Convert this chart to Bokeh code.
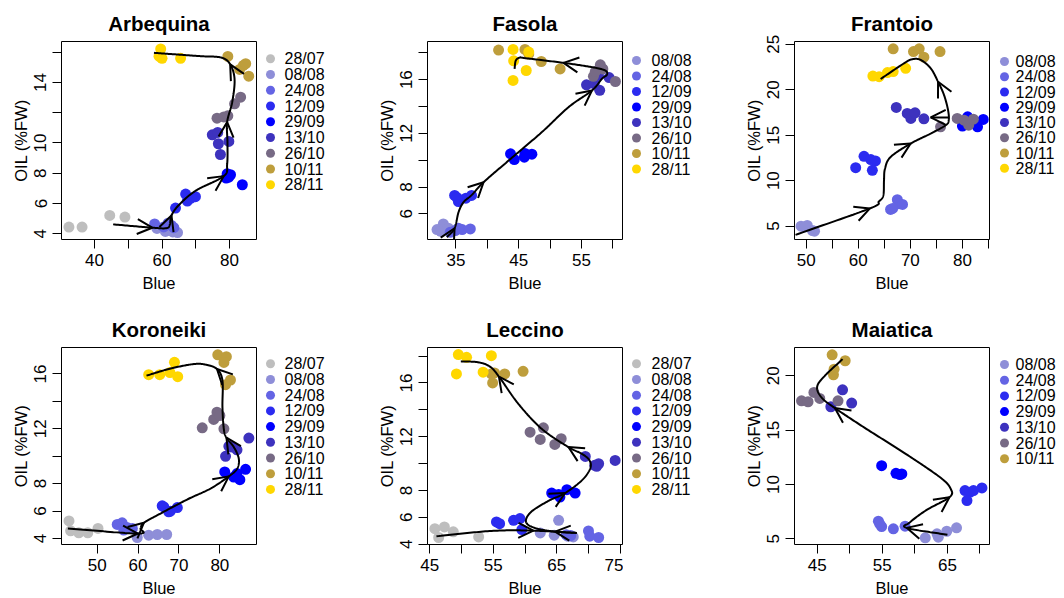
import numpy as np
from bokeh.plotting import figure
from bokeh.models import Range1d, FixedTicker, Arrow, OpenHead, ColumnDataSource
from bokeh.layouts import row, column
from bokeh.core.properties import value
from bokeh.embed import file_html
from bokeh.resources import INLINE

FONT = "Liberation Sans"

DATES = ["28/07", "08/08", "24/08", "12/09", "29/09", "13/10", "26/10", "10/11", "28/11"]
DATE_COLORS = ["#BEBEBE", "#8E8ED8", "#6464E4", "#2B2BF0", "#0000FF",
               "#3D32BE", "#776A85", "#BE9E3C", "#FFD700"]

# ---------------- Arbequina ----------------
arbequina_dates = ["28/07", "08/08", "24/08", "12/09", "29/09", "13/10", "26/10", "10/11", "28/11"]
arbequina_blue = [
    [32.4, 36.3, 44.5, 49.0],
    [58.5, 61.0, 62.4, 63.2, 64.6],
    [57.8, 60.5, 61.8, 62.8, 63.5],
    [64.0, 67.0, 67.5, 69.9, 68.6],
    [79.3, 79.8, 80.3, 83.8, 79.0],
    [74.9, 76.5, 76.7, 77.3, 79.8],
    [76.3, 78.3, 79.5, 81.5, 83.3],
    [79.5, 83.0, 84.1, 84.8, 85.7],
    [59.6, 59.6, 60.0, 65.5, 59.1],
]
arbequina_oil = [
    [4.44, 4.44, 5.21, 5.10],
    [4.35, 4.15, 4.25, 4.12, 4.08],
    [4.65, 4.45, 4.70, 4.55, 4.40],
    [5.70, 6.62, 6.16, 6.45, 6.35],
    [7.96, 7.74, 7.90, 7.24, 7.68],
    [10.54, 10.70, 9.95, 9.24, 10.10],
    [11.64, 11.72, 11.80, 12.59, 13.03],
    [15.72, 14.86, 15.13, 15.24, 14.42],
    [16.22, 15.67, 15.60, 15.60, 15.74],
]
arbequina_path_blue = [[45.5, 57.1, 61.3, 62.3, 62.8, 65.0, 70.0, 78.3, 79.3, 79.4, 79.3, 80.8, 81.5, 80.2, 77.5, 71.4, 64.5, 57.6]]
arbequina_path_oil = [[4.62, 4.40, 4.37, 4.60, 5.21, 5.90, 6.85, 7.81, 8.60, 10.0, 11.38, 12.70, 14.20, 15.20, 15.65, 15.74, 15.85, 15.96]]
arbequina_arrows = [[1, 4, 7, 10, 13]]

# ---------------- Fasola ----------------
fasola_dates = ["08/08", "24/08", "12/09", "29/09", "13/10", "26/10", "10/11", "28/11"]
fasola_blue = [
    [32.0, 33.0, 33.8, 32.6],
    [34.9, 36.0, 37.3, 34.1, 35.4],
    [34.8, 35.4, 36.6, 37.5, 35.2],
    [43.7, 44.3, 45.9, 47.1, 46.0],
    [55.8, 57.7, 57.9, 59.4, 57.0],
    [56.9, 58.0, 58.4, 60.4, 57.2],
    [41.8, 46.0, 48.6, 51.6, 46.6],
    [44.1, 44.2, 46.6, 46.2, 44.1],
]
fasola_oil = [
    [4.83, 5.25, 4.93, 4.70],
    [4.76, 4.83, 4.88, 4.63, 4.93],
    [7.37, 6.92, 7.17, 7.37, 7.20],
    [10.47, 10.05, 10.22, 10.45, 10.50],
    [15.61, 16.31, 15.20, 16.15, 15.70],
    [16.25, 17.10, 16.80, 15.86, 16.60],
    [18.20, 18.25, 17.35, 16.80, 17.90],
    [18.25, 17.40, 18.05, 16.68, 15.94],
]
fasola_path_blue = [[33.57, 34.79, 35.42, 36.22, 37.55, 39.41, 43.39, 48.69, 52.94, 56.66, 58.25, 59.04, 58.78, 56.66, 52.14, 46.04, 45.24, 44.55, 44.34]]
fasola_path_oil = [[4.26, 4.93, 6.12, 6.87, 7.42, 8.36, 9.97, 12.09, 13.95, 15.19, 16.06, 16.36, 16.68, 16.93, 17.25, 17.60, 17.65, 17.43, 16.80]]
fasola_arrows = [[1, 5, 9, 14]]

# ---------------- Frantoio ----------------
frantoio_dates = ["08/08", "24/08", "12/09", "29/09", "13/10", "26/10", "10/11", "28/11"]
frantoio_blue = [
    [49.0, 50.2, 51.2, 51.6, 49.7],
    [66.2, 67.5, 67.8, 68.5, 66.6],
    [59.5, 61.1, 62.4, 63.3, 62.7],
    [80.0, 81.0, 82.9, 84.0, 80.3],
    [67.3, 69.4, 70.1, 70.9, 72.6],
    [75.8, 79.0, 80.3, 81.2, 82.1],
    [66.7, 70.6, 71.7, 72.6, 75.7],
    [62.8, 64.0, 65.6, 66.7, 69.1],
]
frantoio_oil = [
    [5.00, 5.07, 4.52, 4.45, 4.90],
    [6.84, 7.90, 7.46, 7.39, 6.95],
    [11.43, 12.68, 12.32, 12.17, 11.14],
    [16.00, 17.02, 15.92, 16.73, 16.36],
    [18.05, 17.39, 16.84, 17.46, 16.80],
    [15.92, 16.84, 16.65, 16.10, 16.76],
    [24.49, 24.19, 24.49, 23.57, 24.19],
    [21.50, 21.43, 21.88, 21.99, 22.35],
]
frantoio_path_blue = [
    [47.95, 62.24, 63.97, 64.81, 64.94, 65.13, 66.22, 70.06, 73.91, 76.79, 77.37, 77.24, 76.47, 75.32, 73.91, 71.99, 70.38, 68.78, 64.29],
    [77.37, 73.91],
]
frantoio_path_oil = [
    [4.04, 6.95, 7.72, 8.38, 10.04, 11.32, 12.61, 14.08, 15.18, 16.10, 16.65, 17.76, 19.41, 20.88, 22.35, 23.27, 23.35, 22.90, 21.18],
    [16.95, 16.95],
]
frantoio_arrows = [[1, 7, 13], [1]]

# ---------------- Koroneiki ----------------
koroneiki_dates = ["28/07", "08/08", "24/08", "12/09", "29/09", "13/10", "26/10", "10/11", "28/11"]
koroneiki_blue = [
    [43.1, 43.5, 45.5, 47.7, 50.2],
    [59.8, 62.6, 64.7, 67.0],
    [54.9, 56.1, 57.3, 58.6, 56.5],
    [65.9, 66.3, 67.5, 67.9, 69.6],
    [81.2, 83.4, 84.9, 86.3, 84.2],
    [81.4, 82.2, 84.2, 87.1, 83.0],
    [75.7, 78.5, 79.3, 81.0, 80.0],
    [79.5, 81.6, 81.0, 82.6, 81.4],
    [62.6, 65.3, 67.8, 68.9, 69.7],
]
koroneiki_oil = [
    [5.28, 4.56, 4.41, 4.41, 4.73],
    [4.07, 4.24, 4.29, 4.29],
    [5.02, 5.14, 4.80, 4.73, 4.61],
    [6.38, 6.30, 5.94, 5.99, 6.25],
    [8.85, 8.48, 8.29, 9.04, 8.73],
    [9.99, 10.72, 10.47, 11.32, 10.67],
    [12.07, 12.68, 13.21, 12.00, 12.97],
    [17.40, 17.26, 16.84, 15.56, 15.22],
    [15.95, 15.95, 16.10, 16.85, 15.80],
]
koroneiki_path_blue = [[42.83, 59.94, 60.6, 61.41, 65.49, 72.0, 77.71, 82.19, 84.23, 84.64, 83.41, 81.62, 80.97, 80.64, 80.64, 79.3, 76.5, 73.6, 68.0, 62.06]]
koroneiki_path_oil = [[4.73, 4.36, 4.73, 5.14, 5.82, 6.84, 7.64, 8.53, 9.09, 9.82, 10.67, 11.35, 12.0, 13.58, 15.52, 16.36, 16.68, 16.72, 16.40, 15.88]]
koroneiki_arrows = [[1, 3, 7, 11, 15]]

# ---------------- Leccino ----------------
leccino_dates = ["28/07", "08/08", "24/08", "12/09", "29/09", "13/10", "26/10", "10/11", "28/11"]
leccino_blue = [
    [45.8, 47.3, 48.7, 46.4, 52.7],
    [62.4, 65.3, 64.6, 66.8, 67.6],
    [70.0, 70.2, 71.6, 67.2, 66.5],
    [55.5, 56.0, 58.2, 59.2, 59.5],
    [64.2, 65.3, 66.6, 67.9, 65.5],
    [69.5, 71.0, 71.6, 74.2, 71.3],
    [60.8, 62.4, 62.9, 64.7, 65.7],
    [54.7, 54.9, 56.8, 59.7, 55.2],
    [49.5, 50.8, 54.7, 49.2, 53.4],
]
leccino_oil = [
    [5.16, 5.29, 4.92, 4.50, 4.54],
    [4.84, 5.78, 4.67, 4.59, 4.54],
    [4.99, 4.60, 4.50, 4.65, 4.70],
    [5.66, 5.53, 5.78, 5.91, 5.09],
    [7.81, 7.71, 8.06, 7.81, 7.51],
    [10.53, 9.87, 9.99, 10.24, 9.80],
    [12.34, 11.80, 12.66, 11.43, 11.85],
    [16.67, 16.00, 16.67, 16.87, 16.75],
    [18.11, 17.91, 18.03, 16.67, 16.80],
]
leccino_path_blue = [
    [46.05, 54.74, 61.32, 68.16],
    [68.16, 64.74, 61.58, 60.16, 60.95, 63.68, 66.32, 68.95, 70.26, 70.16, 68.95, 66.84, 62.63, 58.95, 55.89, 54.47, 52.63, 49.89],
]
leccino_path_oil = [
    [4.59, 4.99, 5.01, 4.84],
    [4.84, 4.94, 5.21, 5.66, 6.40, 7.22, 7.81, 8.75, 9.62, 10.24, 10.73, 11.23, 12.59, 14.45, 16.48, 17.22, 17.54, 17.61],
]
leccino_arrows = [[2], [1, 6, 11, 14]]

# ---------------- Maiatica ----------------
maiatica_dates = ["08/08", "24/08", "12/09", "29/09", "13/10", "26/10", "10/11"]
maiatica_blue = [
    [61.6, 63.6, 64.9, 66.4, 63.4],
    [54.4, 54.9, 56.7, 58.5, 54.6],
    [67.7, 68.5, 68.0, 70.3, 69.0],
    [54.9, 57.1, 57.7, 58.0],
    [47.1, 48.9, 50.3],
    [42.6, 43.6, 44.5, 45.4, 48.2],
    [47.3, 47.5, 47.6, 49.3],
]
maiatica_oil = [
    [5.09, 5.15, 5.70, 6.01, 5.46],
    [6.62, 6.13, 5.92, 6.16, 6.38],
    [9.44, 9.29, 8.52, 9.68, 9.44],
    [11.73, 11.03, 10.91, 10.97],
    [17.15, 18.71, 17.49],
    [17.70, 17.61, 18.47, 17.92, 17.70],
    [21.93, 20.09, 20.61, 21.38],
]
maiatica_path_blue = [[65.0, 58.74, 59.26, 61.82, 65.31, 65.51, 63.87, 58.23, 52.59, 47.72, 45.67, 45.0, 46.18, 48.9]]
maiatica_path_oil = [[5.37, 6.01, 6.53, 7.66, 8.83, 9.59, 10.66, 12.96, 15.10, 17.03, 18.01, 18.99, 20.00, 21.53]]
maiatica_arrows = [[1, 4, 9]]

FRAME_W = 195
TOP_BORDER = 41
NSEG = 24


def smooth(xs, ys, sx, sy, n=NSEG):
    P = np.column_stack([np.asarray(xs) * sx, np.asarray(ys) * sy])
    if len(P) == 2:
        t = np.linspace(0, 1, n + 1)
        arr = P[0] + (P[1] - P[0]) * t[:, None]
        return arr[:, 0] / sx, arr[:, 1] / sy
    ext = np.vstack([2 * P[0] - P[1], P, 2 * P[-1] - P[-2]])
    pts = []
    for i in range(len(P) - 1):
        p0, p1, p2, p3 = ext[i], ext[i + 1], ext[i + 2], ext[i + 3]
        for t in np.linspace(0, 1, n, endpoint=False):
            pts.append(0.5 * (2 * p1 + (-p0 + p2) * t + (2 * p0 - 5 * p1 + 4 * p2 - p3) * t * t
                              + (-p0 + 3 * p1 - 3 * p2 + p3) * t ** 3))
    pts.append(P[-1])
    arr = np.array(pts)
    return arr[:, 0] / sx, arr[:, 1] / sy


def make_main(title, dates, blue, oil, pblue, poil, arrows, xr, yr,
              xticks, xlabels, yticks, ylabels, fh, bottom):
    p = figure(frame_width=FRAME_W, frame_height=fh, min_border_left=61, min_border_right=1,
               min_border_top=TOP_BORDER, min_border_bottom=bottom,
               x_range=Range1d(*xr), y_range=Range1d(*yr), title=title,
               output_backend="svg", toolbar_location=None)
    p.background_fill_color = "white"
    p.border_fill_color = "white"
    p.outline_line_color = "black"
    p.outline_line_width = 1
    p.outline_line_alpha = 1
    p.xgrid.visible = False
    p.ygrid.visible = False
    p.title.text_font = FONT
    p.title.text_font_size = "20.5px"
    p.title.text_font_style = "bold"
    p.title.text_color = "black"
    p.title.align = "center"
    p.title.standoff = 14

    for ax, ticks, labs in ((p.xaxis[0], xticks, xlabels), (p.yaxis[0], yticks, ylabels)):
        ax.ticker = FixedTicker(ticks=ticks)
        ax.major_label_overrides = {t: (str(t) if t in labs else "") for t in ticks}
        ax.axis_line_color = None
        ax.major_tick_in = 0
        ax.major_tick_out = 9
        ax.major_tick_line_color = "black"
        ax.minor_tick_line_color = None
        ax.major_label_text_font = FONT
        ax.major_label_text_font_size = "17px"
        ax.major_label_text_color = "black"
        ax.axis_label_text_font = FONT
        ax.axis_label_text_font_size = "16.5px"
        ax.axis_label_text_font_style = "normal"
        ax.axis_label_text_color = "black"
    p.xaxis.axis_label = "Blue"
    p.yaxis.axis_label = "OIL (%FW)"
    p.xaxis.major_label_standoff = 5
    p.xaxis.axis_label_standoff = 5
    p.yaxis.major_label_orientation = "vertical"
    p.yaxis.major_label_standoff = 6
    p.yaxis.axis_label_standoff = 2

    for d, xs, ys in zip(dates, blue, oil):
        c = DATE_COLORS[DATES.index(d)]
        p.scatter(x=xs, y=ys, size=11, fill_color=c, line_color=None)

    sx = FRAME_W / (xr[1] - xr[0])
    sy = fh / (yr[1] - yr[0])
    ax0, ay0, ax1, ay1 = [], [], [], []
    for xs, ys, arr in zip(pblue, poil, arrows):
        cx, cy = smooth(xs, ys, sx, sy)
        p.line(cx, cy, line_color="black", line_width=2)
        for i in arr:
            k = i * NSEG
            ax0.append(cx[k - 4]); ay0.append(cy[k - 4])
            ax1.append(cx[k]); ay1.append(cy[k])
    src = ColumnDataSource(dict(x0=ax0, y0=ay0, x1=ax1, y1=ay1))
    p.add_layout(Arrow(source=src, x_start="x0", y_start="y0", x_end="x1", y_end="y1",
                       end=OpenHead(size=15, line_width=2, line_color="black"),
                       line_alpha=0))
    return p


def make_legend(dates, width, fh, bottom, dot_x, text_x, y0, step):
    # frame aligned with the neighbouring plot frame; y measured from row top
    q = figure(frame_width=width, frame_height=fh, min_border_left=0, min_border_right=0,
               min_border_top=TOP_BORDER, min_border_bottom=bottom,
               x_range=Range1d(0, width), y_range=Range1d(TOP_BORDER + fh, TOP_BORDER),
               output_backend="svg", toolbar_location=None,
               x_axis_type=None, y_axis_type=None)
    q.outline_line_color = None
    q.background_fill_color = "white"
    q.border_fill_color = "white"
    n = len(dates)
    ys = [y0 + i * step for i in range(n)]
    cols = [DATE_COLORS[DATES.index(d)] for d in dates]
    q.scatter(x=[dot_x] * n, y=ys, size=9, fill_color=cols, line_color=None)
    q.text(x=[text_x] * n, y=ys, text=dates, text_font=value(FONT), text_font_size="16px",
           text_baseline="middle", text_align="left", text_color="black")
    return q


m1 = make_main("Arbequina", arbequina_dates, arbequina_blue, arbequina_oil,
               arbequina_path_blue, arbequina_path_oil, arbequina_arrows,
               (30.2, 88.0), (3.62, 16.71), [40, 50, 60, 70, 80], [40, 60, 80],
               [4, 6, 8, 10, 12, 14, 16], [4, 6, 8, 10, 14], 198, 67)
m2 = make_main("Fasola", fasola_dates, fasola_blue, fasola_oil,
               fasola_path_blue, fasola_path_oil, fasola_arrows,
               (30.48, 61.53), (4.09, 18.84), [35, 40, 45, 50, 55, 60], [35, 45, 55],
               [6, 8, 10, 12, 14, 16, 18], [6, 8, 12, 16], 198, 67)
m3 = make_main("Frantoio", frantoio_dates, frantoio_blue, frantoio_oil,
               frantoio_path_blue, frantoio_path_oil, frantoio_arrows,
               (47.75, 85.2), (3.53, 25.3), [50, 55, 60, 65, 70, 75, 80, 85], [50, 60, 70, 80],
               [5, 10, 15, 20, 25], [5, 10, 15, 20, 25], 198, 67)
m4 = make_main("Koroneiki", koroneiki_dates, koroneiki_blue, koroneiki_oil,
               koroneiki_path_blue, koroneiki_path_oil, koroneiki_arrows,
               (41.27, 88.97), (3.56, 17.93), [50, 60, 70, 80], [50, 60, 70, 80],
               [4, 6, 8, 10, 12, 14, 16], [4, 6, 8, 12, 16], 197, 62)
m5 = make_main("Leccino", leccino_dates, leccino_blue, leccino_oil,
               leccino_path_blue, leccino_path_oil, leccino_arrows,
               (44.64, 75.36), (3.98, 18.64), [45, 50, 55, 60, 65, 70, 75], [45, 55, 65, 75],
               [4, 6, 8, 10, 12, 14, 16, 18], [4, 6, 8, 12, 16], 197, 62)
m6 = make_main("Maiatica", maiatica_dates, maiatica_blue, maiatica_oil,
               maiatica_path_blue, maiatica_path_oil, maiatica_arrows,
               (41.52, 71.46), (4.48, 22.6), [45, 50, 55, 60, 65, 70], [45, 55, 65],
               [5, 10, 15, 20], [5, 10, 15, 20], 197, 62)

l1 = make_legend(arbequina_dates, 109, 198, 67, 13, 27, 58.3, 15.75)
l2 = make_legend(fasola_dates, 110, 198, 67, 13, 28, 60.0, 15.5)
l3 = make_legend(frantoio_dates, 74, 198, 67, 14, 25, 61.0, 15.25)
l4 = make_legend(koroneiki_dates, 109, 197, 62, 13, 27, 57.3, 15.7)
l5 = make_legend(leccino_dates, 110, 197, 62, 13, 28, 57.3, 15.7)
l6 = make_legend(maiatica_dates, 74, 197, 62, 14, 25, 58.0, 15.7)

layout = column(row(m1, l1, m2, l2, m3, l3), row(m4, l4, m5, l5, m6, l6))

html = file_html(layout, INLINE)
html = html.replace("<body>", '<body style="margin:0;overflow:hidden">', 1)
with open("out.html", "w") as f:
    f.write(html)
